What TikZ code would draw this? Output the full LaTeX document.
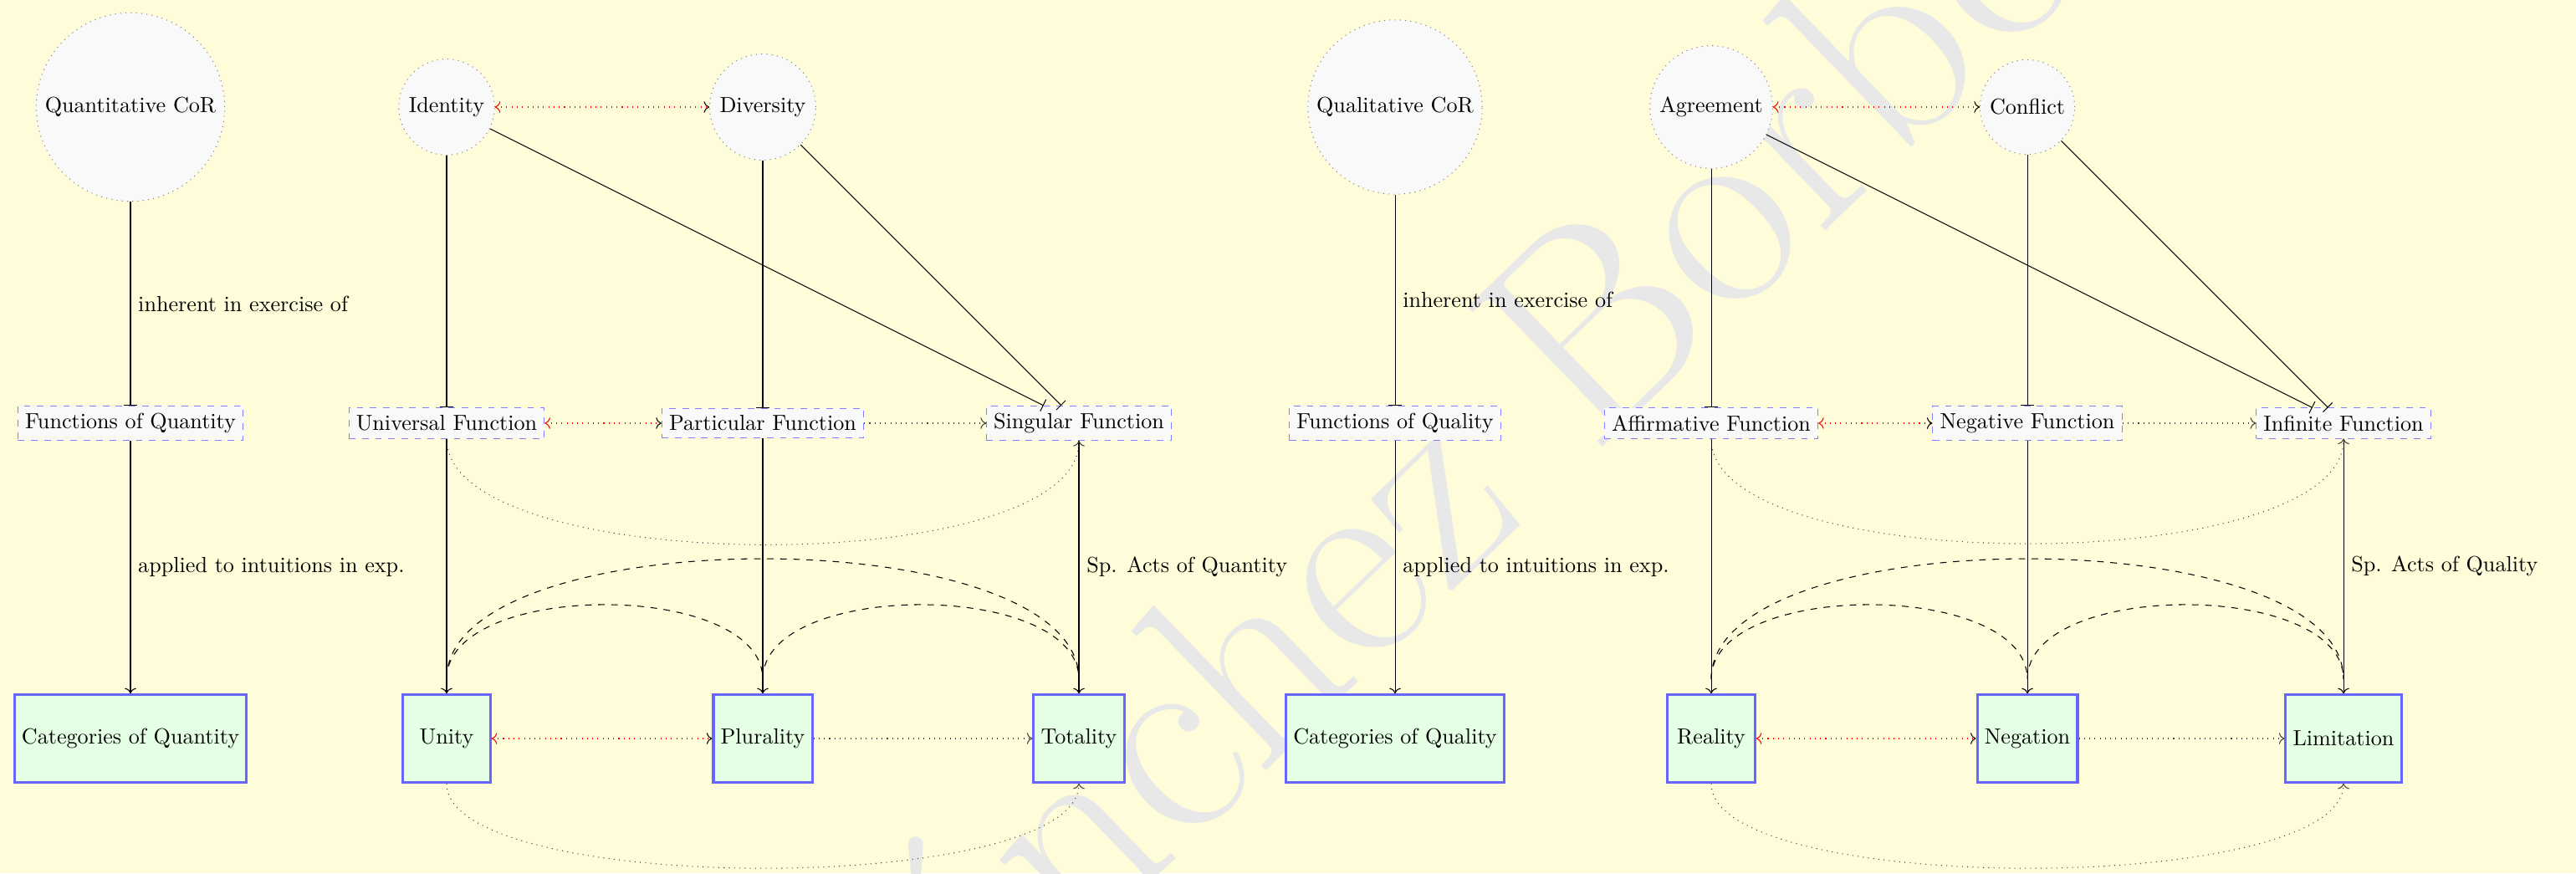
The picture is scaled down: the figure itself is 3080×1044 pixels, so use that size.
\documentclass[tikz,border=0pt]{standalone}
\usetikzlibrary{arrows.meta}
\definecolor{bgyellow}{RGB}{255,252,217}
\begin{document}
\begin{tikzpicture}[x=0.3825pt,y=0.3825pt,
  cor/.style={circle, draw=gray, dotted, fill=gray!5},
  fun/.style={rectangle, draw=blue!50, dashed, fill=gray!5},
  cat/.style={rectangle, draw=blue!60, line width=1.2pt, fill=green!10,
    minimum width=40pt, minimum height=40pt},
  barto/.style={-{Bar[width=6pt]}},
  pairto/.style={red, dotted, {Computer Modern Rightarrow[color=red]}-{Computer Modern Rightarrow[color=black]}},
  nextto/.style={black!75, dotted, ->},
  arcto/.style={dashed, shorten <=6.5pt, shorten >=6.5pt},
  wmark/.style={text=gray!18, rotate=44, font=\fontsize{130}{130}\selectfont}
  ]
\fill[bgyellow] (0,0) rectangle (3080,1044);
\useasboundingbox (0,0) rectangle (3080,1044);
\begin{scope}
\clip (0,0) rectangle (3080,1044);
\node[wmark] (wm) at (1760,521) {Sánchez Borbón};
\end{scope}

% row 1
\node[cor] (qncor) at (156,916) {Quantitative CoR};
\node[cor] (ident) at (534,916) {Identity};
\node[cor] (diver) at (912,916) {Diversity};
\node[cor] (qlcor) at (1668,916) {Qualitative CoR};
\node[cor] (agree) at (2046,916) {Agreement};
\node[cor] (confl) at (2424,916) {Conflict};
% row 2
\node[fun] (fqn) at (156,538) {Functions of Quantity};
\node[fun] (univ) at (534,538) {Universal Function};
\node[fun] (part) at (912,538) {Particular Function};
\node[fun] (sing) at (1290,538) {Singular Function};
\node[fun] (fql) at (1668,538) {Functions of Quality};
\node[fun] (affi) at (2046,538) {Affirmative Function};
\node[fun] (nega) at (2424,538) {Negative Function};
\node[fun] (infi) at (2802,538) {Infinite Function};
% row 3
\node[cat] (cqn) at (156,161) {Categories of Quantity};
\node[cat] (unit) at (534,161) {Unity};
\node[cat] (plur) at (912,161) {Plurality};
\node[cat] (tota) at (1290,161) {Totality};
\node[cat] (cql) at (1668,161) {Categories of Quality};
\node[cat] (real) at (2046,161) {Reality};
\node[cat] (negn) at (2424,161) {Negation};
\node[cat] (limi) at (2802,161) {Limitation};

% quantity
\draw[barto] (qncor) -- node[right] {inherent in exercise of} (fqn);
\draw[->] (fqn) -- node[right] {applied to intuitions in exp.} (cqn);
\draw[barto] (ident) -- (univ);
\draw[barto] (ident) -- (sing);
\draw[barto] (diver) -- (part);
\draw[barto] (diver) -- (sing);
\draw[pairto] (ident) -- (diver);
\draw[pairto] (univ) -- (part);
\draw[nextto] (part) -- (sing);
\draw[->] (univ) -- (unit);
\draw[->] (part) -- (plur);
\draw[->] (sing) -- node[right] {Sp. Acts of Quantity} (tota);
\draw[pairto] (unit) -- (plur);
\draw[nextto] (plur) -- (tota);
\draw[nextto] (univ.south) to[out=-90,in=-90,distance=63.9pt] (sing.south);
\draw[nextto] (unit.south) to[out=-90,in=-90,distance=51.6pt] (tota.south);
\draw[arcto] (unit.north) to[out=90,in=90,distance=52pt] (plur.north);
\draw[arcto] (plur.north) to[out=90,in=90,distance=52pt] (tota.north);
\draw[arcto] (unit.north) to[out=90,in=90,distance=80pt] (tota.north);

% quality
\draw[barto] (qlcor) -- node[right] {inherent in exercise of} (fql);
\draw[->] (fql) -- node[right] {applied to intuitions in exp.} (cql);
\draw[barto] (agree) -- (affi);
\draw[barto] (agree) -- (infi);
\draw[barto] (confl) -- (nega);
\draw[barto] (confl) -- (infi);
\draw[pairto] (agree) -- (confl);
\draw[pairto] (affi) -- (nega);
\draw[nextto] (nega) -- (infi);
\draw[->] (affi) -- (real);
\draw[->] (nega) -- (negn);
\draw[->] (infi) -- node[right] {Sp. Acts of Quality} (limi);
\draw[pairto] (real) -- (negn);
\draw[nextto] (negn) -- (limi);
\draw[nextto] (affi.south) to[out=-90,in=-90,distance=63.9pt] (infi.south);
\draw[nextto] (real.south) to[out=-90,in=-90,distance=51.6pt] (limi.south);
\draw[arcto] (real.north) to[out=90,in=90,distance=52pt] (negn.north);
\draw[arcto] (negn.north) to[out=90,in=90,distance=52pt] (limi.north);
\draw[arcto] (real.north) to[out=90,in=90,distance=80pt] (limi.north);
\end{tikzpicture}
\end{document}
